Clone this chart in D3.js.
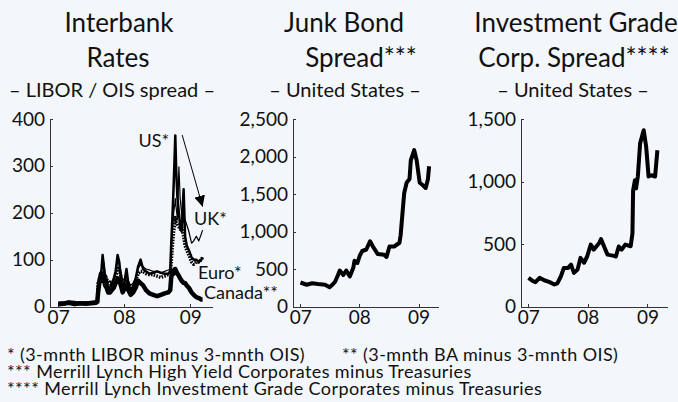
<!DOCTYPE html>
<html>
<head>
<meta charset="utf-8">
<script src="https://cdnjs.cloudflare.com/ajax/libs/d3/7.8.5/d3.min.js"></script>
<style>
  body { margin: 0; background: #f3f7fb; }
  svg { display: block; font-family: Lato, "Noto Sans", sans-serif; }
  .axis path, .axis line { stroke: #333; stroke-width: 1; shape-rendering: crispEdges; }
  .axis text { font-family: Lato, sans-serif; font-size: 19px; fill: #111; }
</style>
</head>
<body>
<div id="chart"></div>
<script>
// ---- data ----
const ibDates = ["2007-01-02","2007-02-01","2007-03-01","2007-04-02","2007-05-01","2007-06-01","2007-07-02",
  "2007-07-30","2007-08-06","2007-08-10","2007-08-20","2007-08-28","2007-09-04","2007-09-10","2007-09-18",
  "2007-09-26","2007-10-05","2007-10-15","2007-10-25","2007-11-05","2007-11-15","2007-11-26","2007-12-05",
  "2007-12-14","2007-12-24","2008-01-04","2008-01-14","2008-01-24","2008-02-06","2008-02-20","2008-03-05",
  "2008-03-18","2008-04-01","2008-04-15","2008-05-01","2008-05-20","2008-06-10","2008-07-01","2008-07-22",
  "2008-08-12","2008-09-01","2008-09-12","2008-09-17","2008-09-24","2008-10-01","2008-10-08","2008-10-10",
  "2008-10-15","2008-10-22","2008-10-30","2008-11-06","2008-11-14","2008-11-25","2008-12-03","2008-12-12",
  "2008-12-24","2009-01-08","2009-01-20","2009-02-03","2009-02-17","2009-03-03","2009-03-10"];
const usSpread = [8,8,9,8,7,8,8,10,12,45,70,75,110,90,60,55,35,40,50,60,75,110,95,60,35,55,80,50,30,45,60,
  85,100,80,75,70,72,75,72,70,70,75,130,190,260,340,365,290,230,200,170,160,250,150,130,120,105,100,100,95,100,105];
const ukSpread = [9,10,12,11,9,10,11,12,14,40,60,70,100,95,70,65,50,55,45,55,70,95,90,75,55,60,70,55,45,50,60,
  80,90,85,80,78,75,75,72,75,78,80,110,160,200,220,230,210,185,298,230,200,180,185,175,160,135,140,150,140,155,163];
const euroSpread = [6,6,7,6,6,7,8,10,15,50,55,65,75,70,65,60,45,45,45,50,60,85,80,65,40,50,55,45,35,40,55,
  70,75,75,70,68,68,65,62,65,68,70,90,130,160,180,190,180,175,170,165,170,150,130,120,110,95,90,95,95,100,105];
const canadaSpread = [5,6,8,5,7,6,7,8,10,30,60,55,65,60,45,40,30,30,35,40,50,60,55,45,30,40,45,35,25,30,40,
  55,50,45,35,28,25,22,25,28,30,35,60,75,70,80,80,75,70,65,60,55,50,50,45,40,30,25,20,18,15,15];

const junkDates = ["2007-01-02","2007-02-10","2007-03-15","2007-04-20","2007-06-03","2007-07-01","2007-07-23",
  "2007-08-04","2007-08-22","2007-09-02","2007-09-24","2007-10-12","2007-11-03","2007-11-25","2007-12-02",
  "2007-12-20","2008-01-04","2008-01-19","2008-02-13","2008-03-07","2008-03-25","2008-04-23","2008-06-02",
  "2008-06-17","2008-07-05","2008-08-03","2008-09-05","2008-09-12","2008-10-04","2008-10-19","2008-11-06",
  "2008-11-14","2008-12-05","2008-12-20","2009-01-08","2009-01-26","2009-02-14","2009-02-28","2009-03-07"];
const junkSpread = [320,290,310,300,290,258,300,330,420,480,420,480,400,520,610,580,680,740,760,870,800,700,
  690,660,800,800,850,950,1510,1650,1700,1950,2085,1950,1650,1620,1580,1700,1870];

const igDates = ["2007-01-02","2007-01-27","2007-02-14","2007-03-11","2007-04-09","2007-05-12","2007-06-10",
  "2007-06-28","2007-07-20","2007-08-07","2007-09-02","2007-09-20","2007-10-08","2007-10-30","2007-11-17",
  "2007-12-09","2007-12-28","2008-01-19","2008-02-06","2008-03-11","2008-03-22","2008-04-13","2008-05-01",
  "2008-06-10","2008-06-21","2008-07-09","2008-07-27","2008-08-18","2008-09-20","2008-10-01","2008-10-05",
  "2008-10-16","2008-10-23","2008-11-03","2008-11-17","2008-12-09","2008-12-24","2009-01-08","2009-01-26",
  "2009-02-17","2009-03-03"];
const igSpread = [229,205,195,229,210,195,176,185,242,309,309,335,269,295,389,350,400,495,455,508,540,470,415,
  405,400,480,455,495,482,585,930,1010,945,1040,1305,1410,1280,1040,1050,1040,1250];

const yearTicks = ["2007-01-01","2008-01-01","2009-01-01"];
const ibTicks = [0,100,200,300,400];
const junkTicks = [0,500,1000,1500,2000,2500];
const igTicks = [0,500,1000,1500];

const footnotes = [
  "* (3-mnth LIBOR minus 3-mnth OIS)",
  "*** Merrill Lynch High Yield Corporates minus Treasuries",
  "**** Merrill Lynch Investment Grade Corporates minus Treasuries"
];
const footnote2 = "** (3-mnth BA minus 3-mnth OIS)";

// ---- drawing ----
const W = 678, H = 402;
const parse = d3.timeParse("%Y-%m-%d");
const svg = d3.select("#chart").append("svg").attr("width", W).attr("height", H);
svg.append("rect").attr("width", W).attr("height", H).attr("fill", "#f3f7fb");

const xDomain = [parse("2006-11-17"), parse("2009-05-01")];
const yTop = 119, yBottom = 306.5;

function panel(x0, x1, yMax, ticks) {
  const x = d3.scaleTime().domain(xDomain).range([x0, x1]);
  const y = d3.scaleLinear().domain([0, yMax]).range([yBottom, yTop]);
  const g = svg.append("g");
  g.append("g").attr("class", "axis").attr("transform", "translate(0," + yBottom + ")")
    .call(d3.axisBottom(x).tickValues(yearTicks.map(parse)).tickFormat(d3.timeFormat("%y"))
      .tickSizeInner(-3).tickSizeOuter(0).tickPadding(4));
  g.append("g").attr("class", "axis").attr("transform", "translate(" + x0 + ",0)")
    .call(d3.axisLeft(y).tickValues(ticks).tickFormat(d3.format(","))
      .tickSizeInner(-3).tickSizeOuter(0).tickPadding(5));
  return { x, y, g };
}

function drawLine(p, dates, values, width, dash) {
  const pts = dates.map((d, i) => [parse(d), values[i]]);
  const line = d3.line().x(d => p.x(d[0])).y(d => p.y(d[1]));
  p.g.append("path").datum(pts)
    .attr("d", line)
    .attr("fill", "none")
    .attr("stroke", "#000")
    .attr("stroke-width", width)
    .attr("stroke-linejoin", "round")
    .attr("stroke-dasharray", dash || null);
}

// panel 1: interbank
const p1 = panel(50, 212, 400, ibTicks);
drawLine(p1, ibDates, canadaSpread, 4.5);
drawLine(p1, ibDates, euroSpread, 3.4, "1.6,1.2");
drawLine(p1, ibDates, ukSpread, 1.2);
drawLine(p1, ibDates, usSpread, 2.5);

// panel 2: junk bond
const p2 = panel(293, 438, 2500, junkTicks);
drawLine(p2, junkDates, junkSpread, 4);

// panel 3: investment grade
const p3 = panel(521, 667, 1500, igTicks);
drawLine(p3, igDates, igSpread, 4);

// series labels in panel 1
const lab = (p, d, v, t, anchor) => p.g.append("text")
  .attr("x", p.x(parse(d))).attr("y", p.y(v))
  .attr("text-anchor", anchor || "start")
  .attr("font-size", 18).attr("fill", "#111").text(t);
lab(p1, "2008-09-06", 340, "US*", "end");
lab(p1, "2009-01-22", 174, "UK*");
lab(p1, "2009-02-13", 59, "Euro*");
lab(p1, "2009-03-18", 16, "Canada**");

// arrow from US label
svg.append("defs").append("marker")
  .attr("id", "ah").attr("viewBox", "0 0 10 10")
  .attr("refX", 10).attr("refY", 5)
  .attr("markerWidth", 11).attr("markerHeight", 11)
  .attr("markerUnits", "userSpaceOnUse")
  .attr("orient", "auto")
  .append("path").attr("d", "M0,0 L10,5 L0,10 z").attr("fill", "#000");
p1.g.append("line")
  .attr("x1", p1.x(parse("2008-11-17"))).attr("y1", p1.y(366))
  .attr("x2", p1.x(parse("2009-03-10"))).attr("y2", p1.y(213))
  .attr("stroke", "#000").attr("stroke-width", 1)
  .attr("marker-end", "url(#ah)");

// titles
const titles = [
  { lines: [["Interbank", 119], ["Rates", 118]], sub: ["– LIBOR / OIS spread –", 112] },
  { lines: [["Junk Bond", 344], ["Spread***", 361]], sub: ["– United States –", 345] },
  { lines: [["Investment Grade", 576], ["Corp. Spread****", 574]], sub: ["– United States –", 573] }
];
titles.forEach(t => {
  t.lines.forEach((l, i) => {
    svg.append("text").attr("x", l[1]).attr("y", 32 + i * 35)
      .attr("text-anchor", "middle").attr("font-size", 26).attr("fill", "#111").text(l[0]);
  });
  svg.append("text").attr("x", t.sub[1]).attr("y", 97)
    .attr("text-anchor", "middle").attr("font-size", 20).attr("fill", "#111").text(t.sub[0]);
});

// footnotes
const note = (x, y, t) => svg.append("text").attr("x", x).attr("y", y)
  .attr("font-size", 18).attr("letter-spacing", 0.4).attr("fill", "#111").text(t);
footnotes.forEach((f, i) => note(7, 361 + i * 17, f));
note(342, 361, footnote2);
</script>
</body>
</html>
